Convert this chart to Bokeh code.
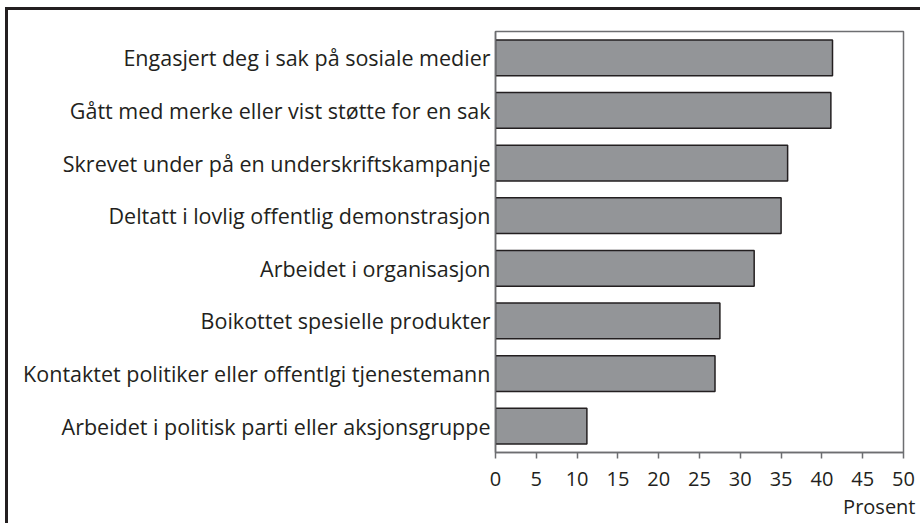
from bokeh.plotting import figure
from bokeh.layouts import column
from bokeh.models import FactorRange, Title, FixedTicker
from bokeh.embed import file_html
from bokeh.resources import INLINE

categories = [
    "Engasjert deg i sak på sosiale medier",
    "Gått med merke eller vist støtte for en sak",
    "Skrevet under på en underskriftskampanje",
    "Deltatt i lovlig offentlig demonstrasjon",
    "Arbeidet i organisasjon",
    "Boikottet spesielle produkter",
    "Kontaktet politiker eller offentlgi tjenestemann",
    "Arbeidet i politisk parti eller aksjonsgruppe",
]
values = [41.3, 41.1, 35.8, 35.0, 31.7, 27.5, 26.9, 11.2]
x_ticks = [0, 5, 10, 15, 20, 25, 30, 35, 40, 45, 50]
x_label = "Prosent"

FONT = "Open Sans"
TXT = "#231f20"
GRAY = "#6d6e71"

W, H = 912, 513
fig = figure(
    width=W, height=H,
    y_range=FactorRange(factors=list(reversed(categories)), range_padding=0),
    x_range=(0, 50),
    output_backend="svg", toolbar_location=None,
    min_border_left=487, min_border_right=W - 487 - 408,
    min_border_top=21, min_border_bottom=H - 21 - 421,
)

fig.hbar(y=categories, right=values, left=0, height=0.68,
         fill_color="#939598", line_color=TXT, line_width=1.5)

fig.grid.visible = False
fig.outline_line_color = GRAY
fig.outline_line_width = 1.5
fig.background_fill_color = "white"
fig.border_fill_color = "white"

xa = fig.xaxis[0]
xa.ticker = FixedTicker(ticks=x_ticks)
xa.axis_line_color = GRAY
xa.axis_line_width = 1.5
xa.major_tick_line_color = GRAY
xa.major_tick_line_width = 1.5
xa.major_tick_in = 0
xa.major_tick_out = 6
xa.minor_tick_line_color = None
xa.major_label_text_font = FONT
xa.major_label_text_font_size = "20px"
xa.major_label_text_color = TXT
xa.major_label_standoff = 13

ya = fig.yaxis[0]
ya.axis_line_color = GRAY
ya.axis_line_width = 1.5
ya.major_tick_line_color = None
ya.major_tick_in = 0
ya.major_tick_out = 0
ya.minor_tick_line_color = None
ya.major_label_text_font = FONT
ya.major_label_text_font_size = "21.5px"
ya.major_label_text_color = TXT
ya.major_label_standoff = 5

fig.add_layout(Title(text=x_label, align="right", offset=-12, standoff=5,
                     text_font=FONT, text_font_size="20px", text_font_style="normal",
                     text_color=TXT), "below")

p = column(fig, styles={"border-left": "3px solid #231f20",
                        "border-top": "3px solid #231f20",
                        "margin-left": "5px", "margin-top": "7px"})

open("out.html", "w").write(file_html(p, INLINE))
